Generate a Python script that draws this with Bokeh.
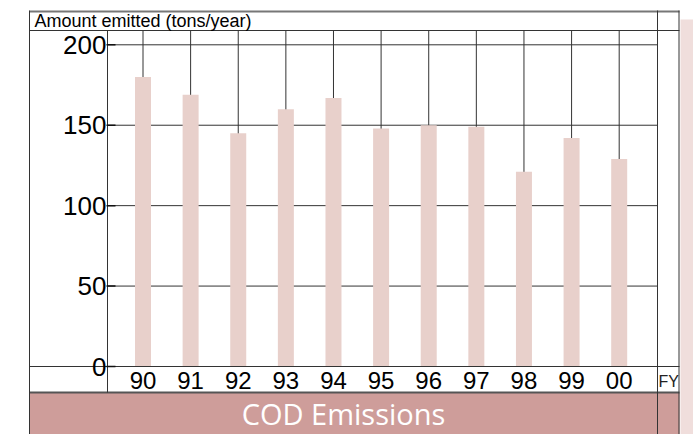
from bokeh.plotting import figure
from bokeh.models import Range1d
from bokeh.core.properties import value
from bokeh.embed import file_html
from bokeh.resources import INLINE

# ---- data ----
years = ["90", "91", "92", "93", "94", "95", "96", "97", "98", "99", "00"]
emissions = [180, 169, 145, 160, 167, 148, 150, 149, 121, 142, 129]
y_ticks = [0, 50, 100, 150, 200]
y_tick_labels = ["0", "50", "100", "150", "200"]
header_text = "Amount emitted (tons/year)"
title_text = "COD Emissions"
x_unit_text = "FY"

# ---- layout calibration (page pixels) ----
W, H = 693, 434
M = 0
CAT0_PX = 142.5
CAT_STEP = 47.62
Y0_PX = 366.0
YTOP_PX = 44.3
PXU = (Y0_PX - YTOP_PX) / y_ticks[-1]


def X(px):
    return (px - CAT0_PX) / CAT_STEP


def Y(py):
    return (Y0_PX - py) / PXU


idx = list(range(len(years)))

p = figure(width=W, height=H, output_backend="svg", toolbar_location=None,
           x_range=Range1d(X(M), X(M + W)), y_range=Range1d(Y(M + H), Y(M)),
           x_axis_location=None, y_axis_location=None, min_border=0,
           tools="")
p.outline_line_color = None
p.background_fill_color = "white"
p.border_fill_color = "white"
p.grid.visible = False

LINE = "#333333"
FONT = value("Liberation Sans")

# title bar and right strip
p.quad(left=[X(29)], right=[X(679)], bottom=[Y(M + H)], top=[Y(392)],
       fill_color="#CE9D9A", line_color=None)
p.quad(left=[X(680)], right=[X(M + W)], bottom=[Y(M + H)], top=[Y(19)],
       fill_color="#F0DEDC", line_color=None)

# horizontal grid lines
gt = y_ticks[1:]
p.segment(x0=[X(107)] * len(gt), x1=[X(657)] * len(gt), y0=gt, y1=gt,
          line_color=LINE, line_width=1)
# vertical lines through category centres
p.segment(x0=idx, x1=idx, y0=[Y(30)] * len(idx), y1=[0] * len(idx),
          line_color=LINE, line_width=1)

# bars
p.vbar(x=idx, top=emissions, bottom=0, width=16 / CAT_STEP,
       fill_color="#E8D0CB", line_color=None)

# table lines
hl = [(Y(30), 29, 679), (Y(Y0_PX), 29, 679)]
p.segment(x0=[X(a) for _, a, _ in hl], x1=[X(b) for _, _, b in hl],
          y0=[y for y, _, _ in hl], y1=[y for y, _, _ in hl],
          line_color=LINE, line_width=1)
p.segment(x0=[X(29)], x1=[X(679)], y0=[Y(11)], y1=[Y(11)],
          line_color="#777777", line_width=2)
p.segment(x0=[X(29)], x1=[X(679)], y0=[Y(392)], y1=[Y(392)],
          line_color="#555555", line_width=2)
vl = [(29, 10, M + H), (657, 10, M + H), (678.5, 10, M + H), (107, 30, 392)]
p.segment(x0=[X(x) for x, _, _ in vl], x1=[X(x) for x, _, _ in vl],
          y0=[Y(a) for _, a, _ in vl], y1=[Y(b) for _, _, b in vl],
          line_color=LINE, line_width=1)

# y ticks (inside)
p.segment(x0=[X(106)] * len(y_ticks), x1=[X(115)] * len(y_ticks),
          y0=y_ticks, y1=y_ticks, line_color="#111111", line_width=1.5)

# y tick labels
p.text(x=[X(106)] * len(y_ticks), y=y_ticks, text=y_tick_labels,
       text_font=FONT, text_font_size="26px", text_align="right",
       text_baseline="middle", text_color="black")

# x category labels
p.text(x=idx, y=[Y(380)] * len(idx), text=years, text_font=FONT,
       text_font_size="24px", text_align="center", text_baseline="middle",
       text_color="black")

# header, unit, title
p.text(x=[X(34)], y=[Y(20.5)], text=[header_text], text_font=FONT,
       text_font_size="18px", text_align="left", text_baseline="middle",
       text_color="black")
p.text(x=[X(658)], y=[Y(381)], text=[x_unit_text], text_font=FONT,
       text_font_size="16px", text_align="left", text_baseline="middle",
       text_color="#222222")
p.text(x=[X(343)], y=[Y(413)], text=[title_text], text_font=value("Open Sans"),
       text_font_size="29px", text_align="center", text_baseline="middle",
       text_color="white")

open("out.html", "w").write(file_html(p, INLINE))
